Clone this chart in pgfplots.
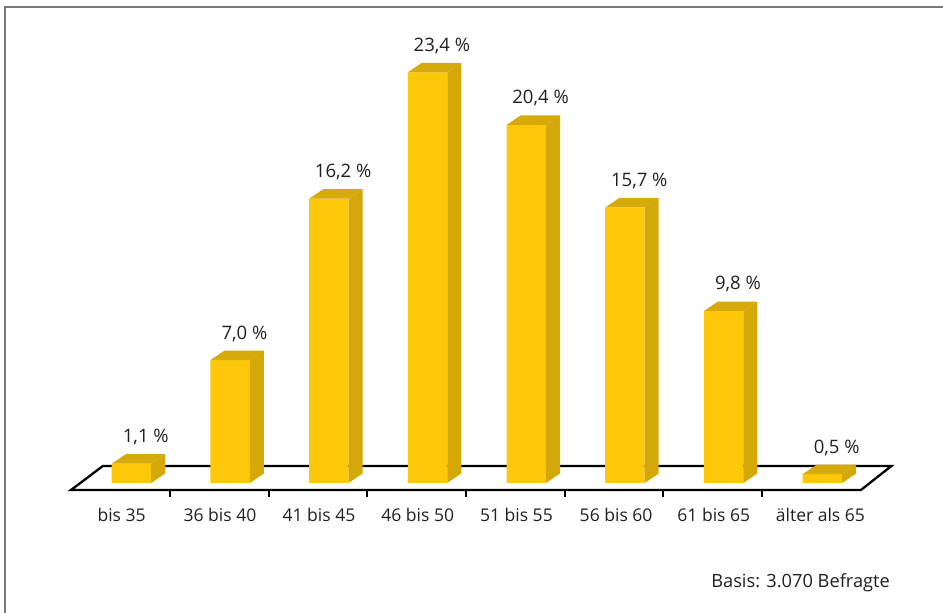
\documentclass[border=0pt]{standalone}
\usepackage{pgfplots}
\usepackage{pgfplotstable}
\pgfplotsset{compat=1.18}
\usepackage{fontspec}
\setmainfont{Open Sans}
\definecolor{frontcol}{RGB}{254,200,10}
\definecolor{sidecol}{RGB}{211,168,8}
\definecolor{topcol}{RGB}{214,170,10}
\definecolor{textcol}{RGB}{35,31,32}
\definecolor{framecol}{RGB}{120,120,120}
\pgfplotstableread[col sep=semicolon]{
x;v;lbl;cat;cx
0;1.1;1,1;bis 35;-0.10
1;7.0;7,0;36 bis 40;0.897
2;16.2;16,2;41 bis 45;1.90
3;23.4;23,4;46 bis 50;2.90
4;20.4;20,4;51 bis 55;3.90
5;15.7;15,7;56 bis 60;4.91
6;9.8;9,8;61 bis 65;5.90
7;0.5;0,5;älter als 65;6.98
}\datatable
\begin{document}
\begin{tikzpicture}
\begin{axis}[
  hide axis,
  x=98.7bp, y=17.55bp,
  xmin=-1.332, xmax=8.222, ymin=-7.407, ymax=27.52,
  clip=false,
  unbounded coords=jump,
  font=\fontsize{17.6}{21}\selectfont,
]
% floor
\addplot[draw=black, line width=2.3bp, fill=white, line join=miter]
  coordinates {(-0.613,-0.40) (7.39,-0.40) (7.70,0.97) (-0.289,0.97)} -- cycle;
% ticks
\addplot[draw=black, line width=2bp]
  coordinates {(0.39,-0.40) (0.39,-0.82) (0.39,nan)
               (1.39,-0.40) (1.39,-0.82) (1.39,nan)
               (2.39,-0.40) (2.39,-0.82) (2.39,nan)
               (3.39,-0.40) (3.39,-0.82) (3.39,nan)
               (4.39,-0.40) (4.39,-0.82) (4.39,nan)
               (5.39,-0.40) (5.39,-0.82) (5.39,nan)
               (6.39,-0.40) (6.39,-0.82)};
% front faces
\addplot[ybar, bar width=0.4, bar shift=0pt, fill=frontcol, draw=none]
  table[x=x, y=v]{\datatable};
% side and top faces
\pgfplotsinvokeforeach{0,...,7}{
  \pgfplotstablegetelem{#1}{v}\of\datatable
  \let\val\pgfplotsretval
  \pgfmathsetmacro\xa{#1-0.2}
  \pgfmathsetmacro\xb{#1+0.2}
  \pgfmathsetmacro\xc{#1+0.342}
  \pgfmathsetmacro\xd{#1-0.058}
  \pgfmathsetmacro\yt{\val+0.54}
  \edef\doit{%
    \noexpand\addplot[fill=sidecol, draw=none] coordinates {(\xb,0) (\xc,0.54) (\xc,\yt) (\xb,\val)} -- cycle;
    \noexpand\addplot[fill=topcol, draw=none] coordinates {(\xa,\val) (\xb,\val) (\xc,\yt) (\xd,\yt)} -- cycle;
  }
  \doit
}
% value labels
\addplot[draw=none, mark=none,
  nodes near coords={\pgfplotspointmeta~\%},
  point meta=explicit symbolic,
  every node near coord/.append style={anchor=base, text=textcol, inner sep=0pt,
    font=\fontsize{18.6}{21}\selectfont}]
  table[x expr=\thisrow{x}+0.145, y expr=\thisrow{v}+1.2, meta=lbl]{\datatable};
% category labels
\addplot[draw=none, mark=none,
  nodes near coords={\pgfplotspointmeta},
  point meta=explicit symbolic,
  every node near coord/.append style={anchor=base, text=textcol, inner sep=0pt}]
  table[x=cx, y expr=-2.22, meta=cat]{\datatable};
% note
\node[anchor=base east, text=textcol, inner sep=0pt, font=\fontsize{18.3}{21}\selectfont]
  at (axis cs:7.685,-5.98) {Basis: 3.070 Befragte};
% frame
\draw[framecol, line width=1.6bp] (axis cs:-1.282,-7.5) -- (axis cs:-1.282,27.12) -- (axis cs:8.3,27.12);
\end{axis}
\pgfresetboundingbox
\path (current axis.south west) rectangle (current axis.north east);
\end{tikzpicture}
\end{document}
